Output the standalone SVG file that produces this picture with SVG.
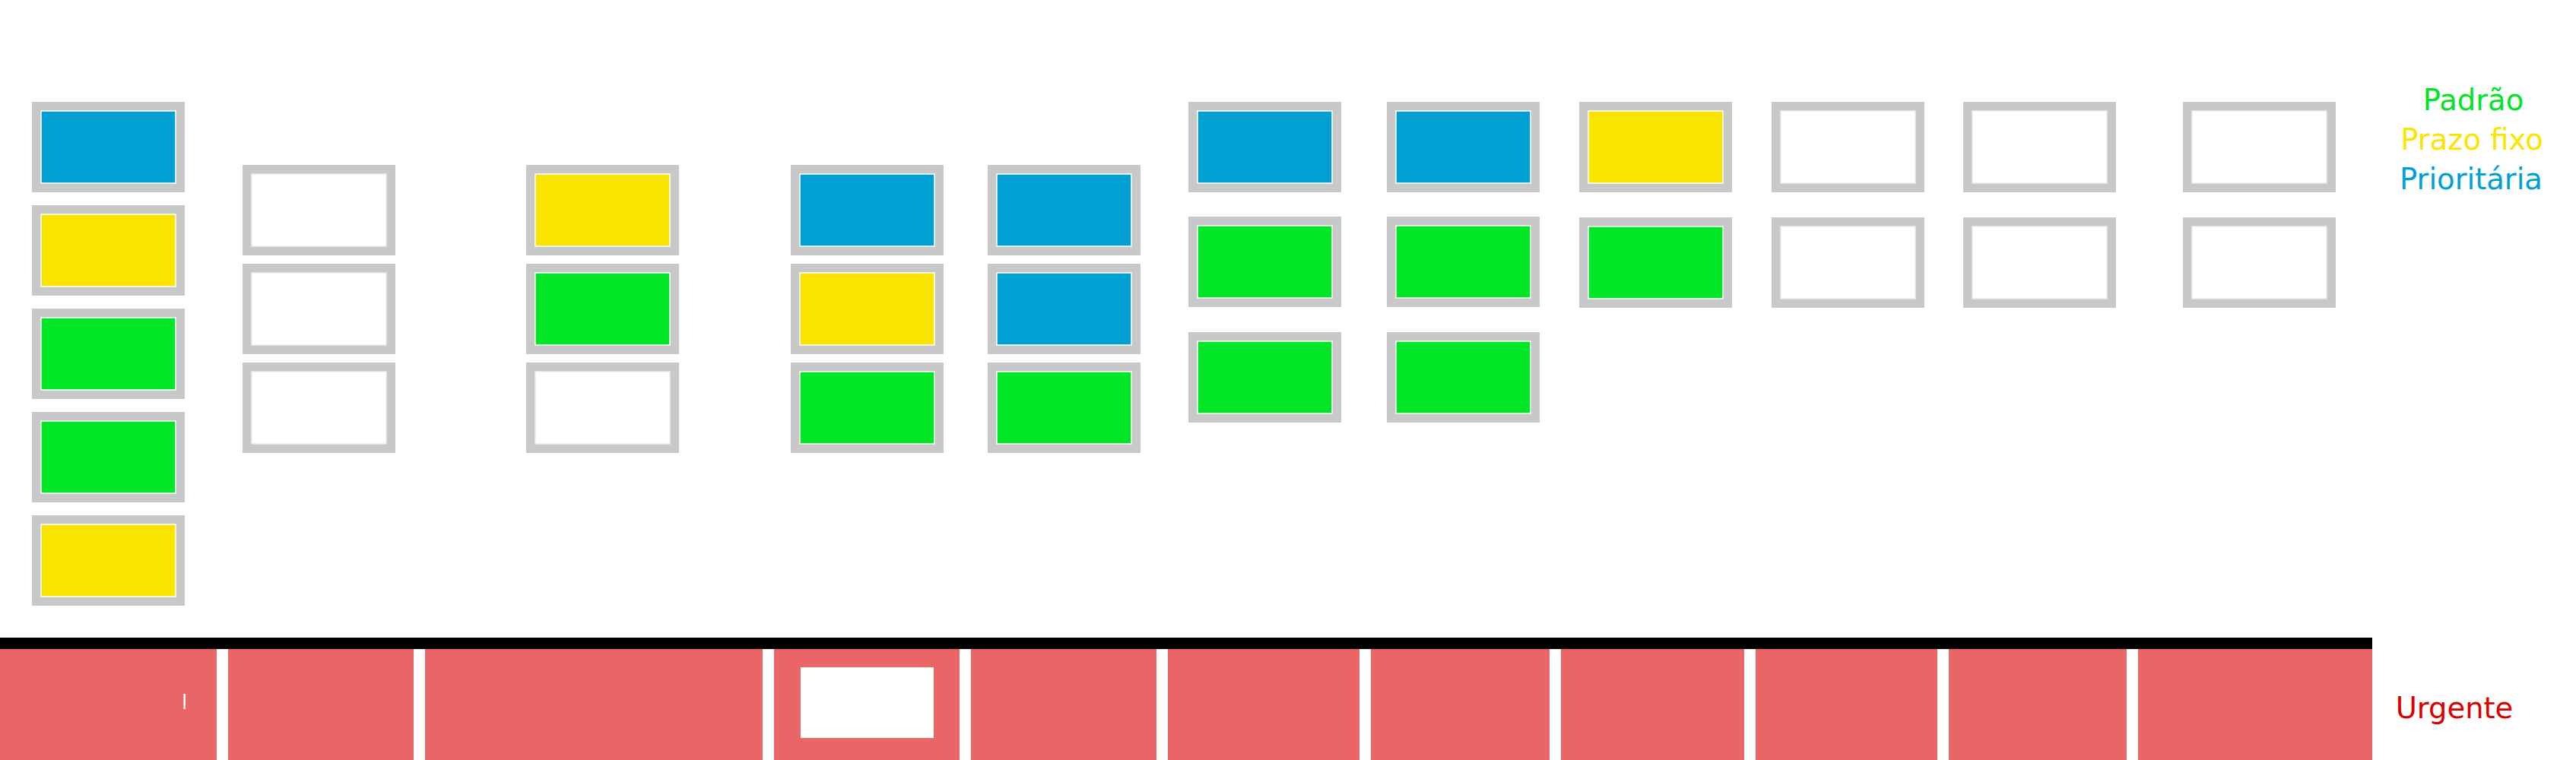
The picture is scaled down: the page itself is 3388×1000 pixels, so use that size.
<svg xmlns="http://www.w3.org/2000/svg" xmlns:xlink="http://www.w3.org/1999/xlink" width="3388" height="1000" viewBox="0 0 3388 1000">
<style>
.frame{fill:#c8c8c8}
.in{stroke:#ffffff;stroke-width:1.5}
.b{fill:#00a0d3}
.y{fill:#f9e500}
.g{fill:#00e525}
.e{fill:#ffffff;stroke:#ececec}
.red{fill:#ea6666}
.lbl{font-family:"DejaVu Sans",sans-serif;font-size:38.5px;text-anchor:middle}
</style>
<defs>
<g id="fb"><rect class="frame" width="201" height="119"/><rect class="in b" x="12" y="12" width="177" height="95"/></g>
<g id="fy"><rect class="frame" width="201" height="119"/><rect class="in y" x="12" y="12" width="177" height="95"/></g>
<g id="fg"><rect class="frame" width="201" height="119"/><rect class="in g" x="12" y="12" width="177" height="95"/></g>
<g id="fe"><rect class="frame" width="201" height="119"/><rect class="in e" x="12" y="12" width="177" height="95"/></g>
</defs>
<rect width="3388" height="1000" fill="#ffffff"/>
<g id="connectors"></g>
<g id="col1">
<use id="n1a" xlink:href="#fb" x="42" y="134"/>
<use id="n1b" xlink:href="#fy" x="42" y="270"/>
<use id="n1c" xlink:href="#fg" x="42" y="406"/>
<use id="n1d" xlink:href="#fg" x="42" y="542"/>
<use id="n1e" xlink:href="#fy" x="42" y="678"/>
</g>
<g id="col2">
<use id="n2a" xlink:href="#fe" x="319" y="217"/>
<use id="n2b" xlink:href="#fe" x="319" y="347"/>
<use id="n2c" xlink:href="#fe" x="319" y="477"/>
</g>
<g id="col3">
<use id="n3a" xlink:href="#fy" x="692" y="217"/>
<use id="n3b" xlink:href="#fg" x="692" y="347"/>
<use id="n3c" xlink:href="#fe" x="692" y="477"/>
</g>
<g id="col4">
<use id="n4a" xlink:href="#fb" x="1040" y="217"/>
<use id="n4b" xlink:href="#fy" x="1040" y="347"/>
<use id="n4c" xlink:href="#fg" x="1040" y="477"/>
</g>
<g id="col5">
<use id="n5a" xlink:href="#fb" x="1299" y="217"/>
<use id="n5b" xlink:href="#fb" x="1299" y="347"/>
<use id="n5c" xlink:href="#fg" x="1299" y="477"/>
</g>
<g id="col6">
<use id="n6a" xlink:href="#fb" x="1563" y="134"/>
<use id="n6b" xlink:href="#fg" x="1563" y="285"/>
<use id="n6c" xlink:href="#fg" x="1563" y="437"/>
</g>
<g id="col7">
<use id="n7a" xlink:href="#fb" x="1824" y="134"/>
<use id="n7b" xlink:href="#fg" x="1824" y="285"/>
<use id="n7c" xlink:href="#fg" x="1824" y="437"/>
</g>
<g id="col8">
<use id="n8a" xlink:href="#fy" x="2077" y="134"/>
<use id="n8b" xlink:href="#fg" x="2077" y="286"/>
</g>
<g id="col9">
<use id="n9a" xlink:href="#fe" x="2330" y="134"/>
<use id="n9b" xlink:href="#fe" x="2330" y="286"/>
</g>
<g id="col10">
<use id="n10a" xlink:href="#fe" x="2582" y="134"/>
<use id="n10b" xlink:href="#fe" x="2582" y="286"/>
</g>
<g id="col11">
<use id="n11a" xlink:href="#fe" x="2871" y="134"/>
<use id="n11b" xlink:href="#fe" x="2871" y="286"/>
</g>
<g id="legend">
<text class="lbl" x="3253" y="145" fill="#00e525">Padrão</text>
<text class="lbl" x="3251" y="197" fill="#f9e500">Prazo fixo</text>
<text class="lbl" x="3250" y="249" fill="#00a0d3">Prioritária</text>
</g>
<g id="urgent">
<rect x="0" y="839" width="3120" height="15" fill="#000000"/>
<rect class="red" x="0" y="854" width="285" height="146"/>
<rect x="241.5" y="913" width="2.5" height="20" fill="#ffffff"/>
<rect class="red" x="300" y="854" width="244" height="146"/>
<rect class="red" x="559" y="854" width="444" height="146"/>
<rect class="red" x="1018" y="854" width="244" height="146"/>
<rect x="1053" y="878" width="175" height="93" fill="#ffffff"/>
<rect class="red" x="1277" y="854" width="244" height="146"/>
<rect class="red" x="1536" y="854" width="252" height="146"/>
<rect class="red" x="1803" y="854" width="235" height="146"/>
<rect class="red" x="2053" y="854" width="241" height="146"/>
<rect class="red" x="2309" y="854" width="239" height="146"/>
<rect class="red" x="2563" y="854" width="234" height="146"/>
<rect class="red" x="2812" y="854" width="308" height="146"/>
<text class="lbl" x="3228" y="945" fill="#d90000">Urgente</text>
</g>
</svg>
